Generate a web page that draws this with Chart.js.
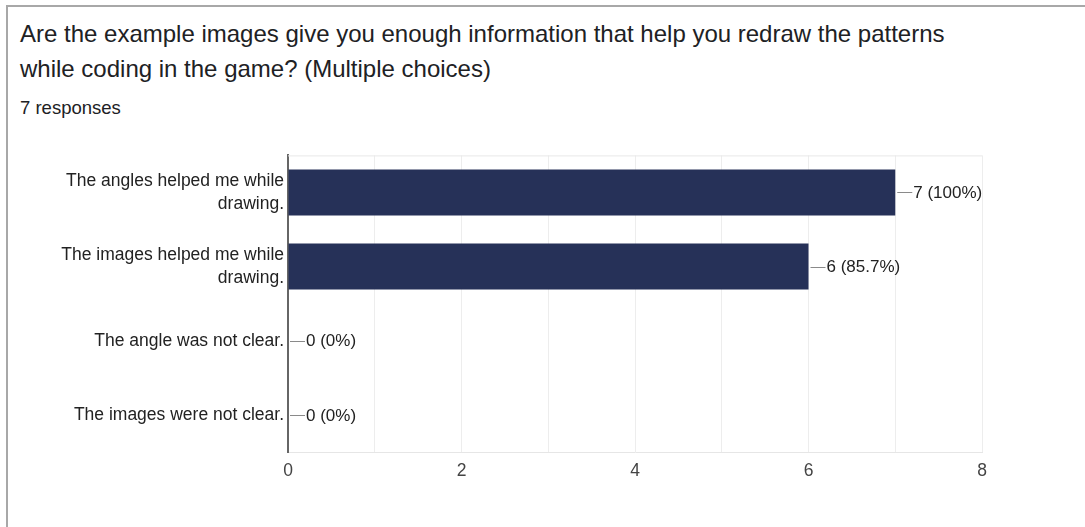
<!DOCTYPE html>
<html>
<head>
<meta charset="utf-8">
<script src="https://cdn.jsdelivr.net/npm/chart.js@4/dist/chart.umd.min.js"></script>
<style>
  html, body { margin: 0; padding: 0; background: #fff; width: 1085px; height: 527px; overflow: hidden; }
  body { position: relative; font-family: "Liberation Sans", Arial, sans-serif; }
  .card { position: absolute; left: 6px; top: 5px; width: 1200px; height: 700px; border: 2px solid #a8a8a8; border-right: none; border-bottom: none; box-sizing: border-box; }
  .q { position: absolute; left: 20px; top: 16px; font-size: 24px; line-height: 35px; color: #202124; width: 1060px; white-space: nowrap; }
  .resp { position: absolute; left: 20px; top: 97px; font-size: 18.5px; color: #202124; }
  #wrap { position: absolute; left: 0; top: 140px; width: 1085px; height: 387px; }
</style>
</head>
<body>
<div class="card"></div>
<div class="q">Are the example images give you enough information that help you redraw the patterns<br>while coding in the game? (Multiple choices)</div>
<div class="resp">7 responses</div>
<div id="wrap"><canvas id="c"></canvas></div>
<script>
// Answer options (each split over lines as shown on the axis)
const categories = [
  ["The angles helped me while", "drawing."],
  ["The images helped me while", "drawing."],
  "The angle was not clear.",
  "The images were not clear."
];
// Number of respondents picking each option
const counts = [7, 6, 0, 0];
const totalResponses = 7;
// Axis range and labelled ticks
const axisMin = 0;
const axisMax = 8;
const tickLabels = ["0", "2", "4", "6", "8"];

const FONT = '"Liberation Sans", Arial, sans-serif';

// Frame line along the top and value labels with a short leader line
const valueLabels = {
  id: 'valueLabels',
  beforeDatasetsDraw(chart) {
    const { ctx, chartArea } = chart;
    ctx.save();
    ctx.strokeStyle = '#e8e8e8';
    ctx.lineWidth = 1;
    ctx.beginPath();
    ctx.moveTo(chartArea.left, chartArea.top + 0.5);
    ctx.lineTo(chartArea.right, chartArea.top + 0.5);
    ctx.stroke();
    ctx.restore();
  },
  afterDatasetsDraw(chart) {
    const { ctx } = chart;
    const meta = chart.getDatasetMeta(0);
    const xs = chart.scales.x;
    ctx.save();
    ctx.font = '17px ' + FONT;
    ctx.textBaseline = 'middle';
    ctx.textAlign = 'left';
    meta.data.forEach((bar, i) => {
      const v = counts[i];
      const x = xs.getPixelForValue(v) + 2;
      const y = bar.y;
      ctx.strokeStyle = '#8a8a8a';
      ctx.lineWidth = 1;
      ctx.beginPath();
      ctx.moveTo(x, Math.round(y) + 0.5);
      ctx.lineTo(x + 15, Math.round(y) + 0.5);
      ctx.stroke();
      const pct = Math.round(v / totalResponses * 1000) / 10;
      ctx.fillStyle = '#222';
      ctx.fillText(v + ' (' + pct + '%)', x + 16, y + 1);
    });
    ctx.restore();
  }
};

new Chart(document.getElementById('c'), {
  type: 'bar',
  data: {
    labels: categories,
    datasets: [{
      data: counts,
      backgroundColor: '#263158',
      borderWidth: 0,
      barPercentage: 0.62,
      categoryPercentage: 1.0
    }]
  },
  options: {
    indexAxis: 'y',
    responsive: true,
    maintainAspectRatio: false,
    animation: false,
    layout: { padding: { top: 14, right: 103, left: 0, bottom: 0 } },
    plugins: { legend: { display: false }, tooltip: { enabled: false } },
    scales: {
      x: {
        min: axisMin,
        max: axisMax,
        afterFit(scale) { scale.height = 75; },
        grid: { color: '#ededed', drawTicks: false },
        border: { color: '#e6e6e6', width: 1 },
        ticks: {
          stepSize: 1,
          padding: 9,
          color: '#444',
          font: { family: FONT, size: 17.5 },
          callback(value) {
            const s = String(value);
            return tickLabels.includes(s) ? s : '';
          }
        }
      },
      y: {
        afterFit(scale) { scale.width = 288; },
        grid: { display: false, drawTicks: false },
        border: { color: '#666', width: 2 },
        ticks: {
          padding: 4,
          color: '#222',
          font: { family: FONT, size: 17.5, lineHeight: 1.3 }
        }
      }
    }
  },
  plugins: [valueLabels]
});
</script>
</body>
</html>
